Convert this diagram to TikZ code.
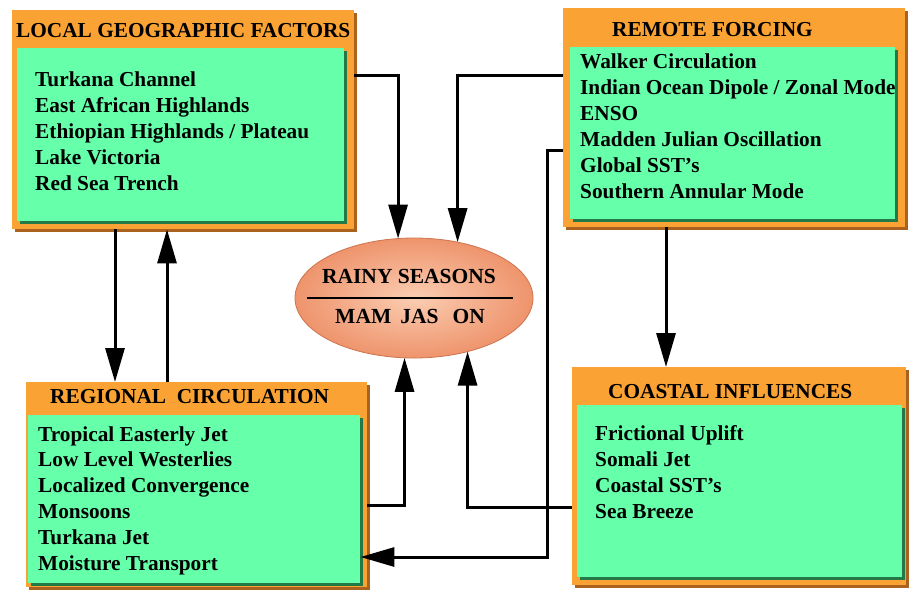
\documentclass[tikz,border=0pt]{standalone}
\usepackage{fontspec}
\setmainfont{Liberation Serif}
\usetikzlibrary{positioning}
\usetikzlibrary{arrows.meta}
\usetikzlibrary{shapes,shadows}

\definecolor{frameorange}{RGB}{250,163,52}
\definecolor{framedark}{RGB}{170,98,30}
\definecolor{listgreen}{RGB}{102,255,170}
\definecolor{listdark}{RGB}{34,120,70}
\definecolor{rainylight}{RGB}{251,205,178}
\definecolor{rainydark}{RGB}{238,148,108}
\definecolor{rainyedge}{RGB}{205,115,80}

\tikzset{frame box/.style={rectangle,fill=frameorange,inner sep=0pt,anchor=north west,
    general shadow={fill=framedark,shadow xshift=3pt,shadow yshift=-3pt}},
  list box/.style={rectangle,fill=listgreen,inner sep=0pt,anchor=north west,
    general shadow={fill=listdark,shadow xshift=2.5pt,shadow yshift=-2.5pt}},
  box title/.style={anchor=base west,inner sep=0pt,font=\bfseries\fontsize{21.3}{26}\selectfont},
  list item/.style={anchor=base west,inner sep=0pt,font=\bfseries\fontsize{21.3}{26}\selectfont},
  season text/.style={anchor=base,inner sep=0pt,font=\bfseries\fontsize{21.5}{26}\selectfont},
  flow/.style={-{Triangle[length=34pt,width=19pt]},line width=3pt},
}

\begin{document}
\begin{tikzpicture}[x=1pt,y=-1pt]
  \useasboundingbox (0,0) rectangle (909,590);

  % the four boxes
  \node[frame box, minimum width=342pt, minimum height=219pt] (local) at (12,10) {};
  \node[list box, minimum width=327pt, minimum height=173pt] (localbody) at (17,48) {};
  \node[frame box, minimum width=342pt, minimum height=219pt] (remote) at (563,8) {};
  \node[list box, minimum width=325pt, minimum height=172pt] (remotebody) at (570,47) {};
  \node[frame box, minimum width=341pt, minimum height=205pt] (regional) at (26,382) {};
  \node[list box, minimum width=332pt, minimum height=168pt] (regionalbody) at (28,415) {};
  \node[frame box, minimum width=334pt, minimum height=218pt] (coastal) at (572,367) {};
  \node[list box, minimum width=325pt, minimum height=172pt] (coastalbody) at (577,405) {};

  \node[box title] (localtitle) at (16,37) {LOCAL GEOGRAPHIC FACTORS};
  \node[box title] (remotetitle) at (612,36) {REMOTE FORCING};
  \node[box title] (regionaltitle) at (50,403) {REGIONAL\ \ CIRCULATION};
  \node[box title] (coastaltitle) at (608,398) {COASTAL INFLUENCES};

  \foreach \txt [count=\i from 0] in {Turkana Channel,East African Highlands,
      Ethiopian Highlands / Plateau,Lake Victoria,Red Sea Trench}
    \node[list item] (local\i) at (35,{86+26*\i}) {\txt};
  \foreach \txt [count=\i from 0] in {Walker Circulation,Indian Ocean Dipole / Zonal Mode,
      ENSO,Madden Julian Oscillation,Global SST’s,Southern Annular Mode}
    \node[list item] (remote\i) at (580,{68+26*\i}) {\txt};
  \foreach \txt [count=\i from 0] in {Tropical Easterly Jet,Low Level Westerlies,
      Localized Convergence,Monsoons,Turkana Jet,Moisture Transport}
    \node[list item] (regional\i) at (38,{441+25.8*\i}) {\txt};
  \foreach \txt [count=\i from 0] in {Frictional Uplift,Somali Jet,Coastal SST’s,Sea Breeze}
    \node[list item] (coastal\i) at (595,{440+26*\i}) {\txt};

  % rainy seasons
  \node[ellipse, minimum width=238pt, minimum height=120pt, inner sep=0pt, outer sep=0pt,
    draw=rainyedge, line width=0.8pt, inner color=rainylight, outer color=rainydark] (rainy) at (414,298) {};
  \node[season text] (rainytop) at (409,283) {RAINY SEASONS};
  \node[season text] (rainybottom) at (410,323) {MAM\hspace{9pt}JAS\hspace{14pt}ON};
  \draw[line width=2.5pt] ([xshift=-107pt]rainy.center) -- ([xshift=99pt]rainy.center);

  % links
  \coordinate (mjo) at (547,557);
  \draw[flow] (local.east |- 0,75) -| (rainy.105);
  \draw[flow] (remote.west |- 0,75) -| (rainy.52);
  \draw[flow] (remote.west |- 0,150) -| (mjo) -- (regionalbody.east |- mjo);
  \draw[flow] (regional.east |- 0,505) -| (rainy.261);
  \draw[flow] (coastal.west |- 0,507) -| (rainy.315);
  \draw[flow] (local.south -| 115,0) -- (regional.north -| 115,0);
  \draw[flow] (regional.north -| 167,0) -- (local.south -| 167,0);
  \draw[flow] (remote.south -| 666,0) -- (coastal.north -| 666,0);
\end{tikzpicture}
\end{document}
